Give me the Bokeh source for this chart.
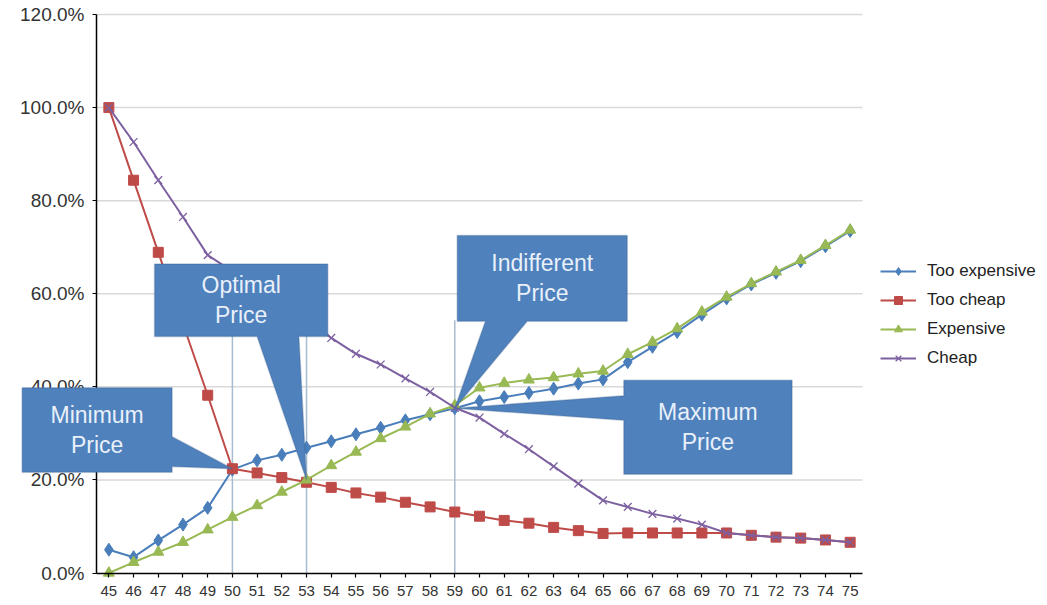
from bokeh.plotting import figure
from bokeh.models import (Range1d, FixedTicker, NumeralTickFormatter, Legend, LegendItem,
                          PolyAnnotation, Label, ColumnDataSource)
from bokeh.embed import file_html
from bokeh.resources import INLINE

# ---------------- data (percent) ----------------
prices = [45, 46, 47, 48, 49, 50, 51, 52, 53, 54, 55, 56, 57, 58, 59, 60,
          61, 62, 63, 64, 65, 66, 67, 68, 69, 70, 71, 72, 73, 74, 75]
too_expensive = [5.0, 3.4, 7.0, 10.4, 14.0, 22.2, 24.2, 25.4, 26.9, 28.3, 29.8, 31.2, 32.8, 34.1, 35.4, 36.9,
                 37.8, 38.7, 39.6, 40.7, 41.6, 45.3, 48.6, 51.8, 55.5, 59.0, 62.0, 64.5, 67.0, 70.2, 73.5]
too_cheap = [100.0, 84.4, 68.9, 53.5, 38.2, 22.4, 21.5, 20.5, 19.5, 18.4, 17.2, 16.3, 15.2, 14.2, 13.1, 12.2,
             11.3, 10.7, 9.8, 9.1, 8.5, 8.6, 8.6, 8.6, 8.6, 8.6, 8.1, 7.7, 7.5, 7.1, 6.6]
expensive = [0.0, 2.3, 4.5, 6.6, 9.3, 12.0, 14.5, 17.4, 20.0, 23.1, 26.0, 28.9, 31.4, 34.2, 36.0, 39.8,
             40.8, 41.5, 42.0, 42.8, 43.4, 47.0, 49.6, 52.5, 56.1, 59.3, 62.2, 64.7, 67.2, 70.4, 73.7]
cheap = [100.0, 92.6, 84.4, 76.5, 68.3, 64.8, 61.4, 57.9, 54.5, 50.5, 47.1, 44.8, 41.8, 38.9, 35.5, 33.4,
         29.9, 26.6, 22.9, 19.2, 15.6, 14.2, 12.7, 11.7, 10.4, 8.6, 8.1, 7.7, 7.5, 7.1, 6.6]
y_ticks = [0.0, 0.2, 0.4, 0.6, 0.8, 1.0, 1.2]

# marker lines at the key prices (x, top of line in %)
marker_prices = [50, 53, 59]
marker_tops = [51.0, 51.0, 54.3]

FONT = "Liberation Sans"
W, H = 1047, 605

# plot area (axes box) spans 44.5..75.5 and 0..120 %, the canvas is wider so that
# callouts and the legend can sit outside the axes box
X0, X1 = 44.5, 75.5
PX_L, PX_R, PX_T, PX_B = 96, 862, 14, 572.5
ux = (PX_R - PX_L) / (X1 - X0)
uy = (PX_B - PX_T) / 1.2
x_range = Range1d(X0 - PX_L / ux, X1 + (W - PX_R) / ux)
y_range = Range1d(-(H - PX_B) / uy, 1.2 + PX_T / uy)

p = figure(width=W, height=H, output_backend="svg", toolbar_location=None, title=None,
           x_range=x_range, y_range=y_range,
           min_border_left=0, min_border_right=0, min_border_top=0, min_border_bottom=0)
p.outline_line_color = None
p.background_fill_color = "white"
p.xgrid.visible = False
p.ygrid.visible = False

p.yaxis.fixed_location = X0
p.yaxis.bounds = (0, 1.2)
p.xaxis.fixed_location = 0
p.xaxis.bounds = (X0, X1)
p.yaxis.ticker = FixedTicker(ticks=y_ticks)
p.yaxis.formatter = NumeralTickFormatter(format="0.0%")
p.xaxis.ticker = FixedTicker(ticks=prices)
for ax in (p.xaxis[0], p.yaxis[0]):
    ax.axis_line_color = "black"
    ax.axis_line_width = 1.5
    ax.major_tick_line_color = "black"
    ax.major_tick_line_width = 1.2
    ax.major_tick_in = 0
    ax.major_tick_out = 4
    ax.minor_tick_line_color = None
    ax.major_label_text_font = FONT
    ax.major_label_text_color = "#333333"
p.yaxis.major_label_text_font_size = "19px"
p.yaxis.major_label_standoff = 8
p.xaxis.major_label_text_font_size = "15px"
p.xaxis.major_label_standoff = 9

# horizontal gridlines limited to the axes box
grid_y = y_ticks[1:]
p.segment(x0=[X0] * len(grid_y), y0=grid_y, x1=[X1] * len(grid_y), y1=grid_y,
          line_color="#d9d9d9", line_width=1.5)

# vertical reference lines
p.segment(x0=marker_prices, y0=[0] * 3, x1=marker_prices, y1=[t / 100 for t in marker_tops],
          line_color="#a7bccf", line_width=1.5)

src = ColumnDataSource(dict(
    x=prices,
    te=[v / 100 for v in too_expensive],
    tc=[v / 100 for v in too_cheap],
    ex=[v / 100 for v in expensive],
    ch=[v / 100 for v in cheap],
))

series = [
    ("Too expensive", "te", "#4a7ebb", "diamond", 13),
    ("Too cheap", "tc", "#be4b48", "square", 10),
    ("Expensive", "ex", "#98b954", "triangle", 11),
    ("Cheap", "ch", "#7d60a0", "x", 11),
]
items = []
for label, col, color, marker, size in series:
    lr = p.line("x", col, source=src, line_color=color, line_width=2)
    if marker == "x":
        sr = p.scatter("x", col, source=src, marker=marker, size=size, line_color=color, line_width=1.3)
    else:
        sr = p.scatter("x", col, source=src, marker=marker, size=size, fill_color=color, line_color=color)
    items.append(LegendItem(label=label, renderers=[lr, sr]))

legend = Legend(items=items, location=(880, 237), margin=0, padding=0,
                border_line_alpha=0, background_fill_alpha=0,
                label_text_font=FONT, label_text_font_size="17px", label_text_color="#222222",
                glyph_width=36, glyph_height=20, label_height=20, label_standoff=11, spacing=9)
p.add_layout(legend)

# ---------------- callouts ----------------
BOX_FILL = "#4f81bd"
BOX_LINE = "#385d8a"
TXT = "#e9f0f9"


def callout(lines, L, R, T, B, tip, wedge, side):
    tx, ty = tip
    if side == "right":
        xs = [L, R, R, tx, R, R, L]
        ys = [T, T, wedge[0], ty, wedge[1], B, B]
    elif side == "left":
        xs = [L, R, R, L, L, tx, L]
        ys = [T, T, B, B, wedge[1], ty, wedge[0]]
    else:  # bottom
        xs = [L, R, R, wedge[1], tx, wedge[0], L]
        ys = [T, T, B, B, ty, B, B]
    p.add_layout(PolyAnnotation(xs=xs, ys=[v / 100 for v in ys], fill_color=BOX_FILL, fill_alpha=1,
                                line_color=BOX_LINE, line_width=1.5))
    cx = (L + R) / 2
    cy = (T + B) / 2
    for txt, dy in zip(lines, (3.2, -3.2)):
        p.add_layout(Label(x=cx, y=(cy + dy) / 100, text=txt, text_align="center", text_baseline="middle",
                           text_font=FONT, text_font_size="23px", text_color=TXT))


i50 = prices.index(50)
i53 = prices.index(53)
i59 = prices.index(59)
callout(["Minimum", "Price"], 41.49, 47.56, 39.8, 21.66, (50, too_cheap[i50]), (29.3, 22.9), "right")
callout(["Optimal", "Price"], 46.85, 53.86, 66.4, 50.8, (53, expensive[i53]), (51.0, 52.69), "bottom")
callout(["Indifferent", "Price"], 59.10, 65.98, 72.5, 54.1, (59, too_expensive[i59]), (60.24, 61.93), "bottom")
callout(["Maximum", "Price"], 65.84, 72.65, 41.4, 21.2, (59, too_expensive[i59]), (38.1, 32.8), "left")

open("out.html", "w").write(file_html(p, INLINE))
